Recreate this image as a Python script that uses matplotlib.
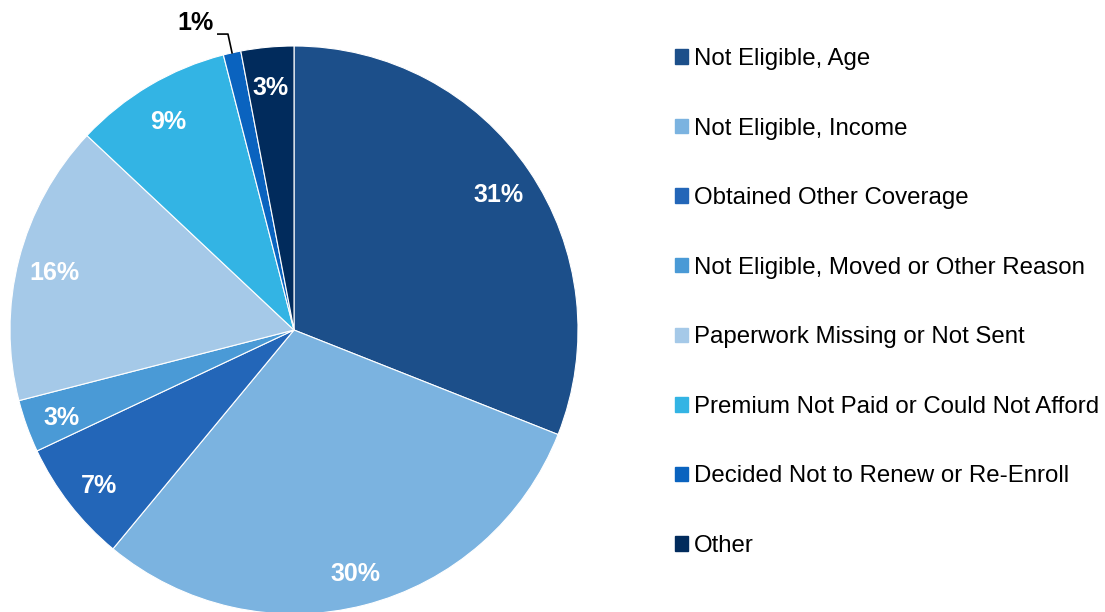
import matplotlib.pyplot as plt
import matplotlib.patches as mpatches
import numpy as np

plt.rcParams['font.family'] = ['Liberation Sans', 'DejaVu Sans']

# Données
categories = [
    "Not Eligible, Age",
    "Not Eligible, Income",
    "Obtained Other Coverage",
    "Not Eligible, Moved or Other Reason",
    "Paperwork Missing or Not Sent",
    "Premium Not Paid or Could Not Afford",
    "Decided Not to Renew or Re-Enroll",
    "Other",
]
valeurs = [31, 30, 7, 3, 16, 9, 1, 3]
couleurs = ["#1c4f8a", "#7bb3e0", "#2366b8", "#4a9ad6",
            "#a5c9e8", "#33b4e4", "#0a63bf", "#012b5c"]

fig = plt.figure(figsize=(11.05, 6.12), dpi=100)
W, H = 1105, 612
cx, cy, r = 294, 330, 284
ax = fig.add_axes([(cx - r) / W, (H - cy - r) / H, 2 * r / W, 2 * r / H])

wedges, _ = ax.pie(valeurs, colors=couleurs, startangle=90, counterclock=False,
                   radius=1, wedgeprops=dict(edgecolor='white', linewidth=0.8))
ax.set_xlim(-1, 1)
ax.set_ylim(-1, 1)
ax.set_aspect('equal')
ax.axis('off')

# Étiquettes de pourcentage
total = sum(valeurs)
for w, v in zip(wedges, valeurs):
    ang = np.deg2rad((w.theta1 + w.theta2) / 2)
    if v / total < 0.02:
        # petite part : étiquette à l'extérieur avec trait
        x0, y0 = np.cos(ang), np.sin(ang)
        ax.plot([x0 * 1.0, x0 * 1.02 - 0.01, x0 * 1.0 - 0.05],
                [y0 * 1.0, 1.042, 1.042], color='black', lw=1.2, clip_on=False)
        ax.text(-0.348, 1.08, f"{v}%", ha='center', va='center',
                fontsize=18, fontweight='bold', color='black')
    else:
        d = 0.87
        ax.text(d * np.cos(ang), d * np.sin(ang) - 0.015, f"{v}%",
                ha='center', va='center',
                fontsize=18, fontweight='bold', color='white')

# Légende
handles = [mpatches.Patch(color=c, label=l) for c, l in zip(couleurs, categories)]
fig.legend(handles=handles, loc='upper left', bbox_to_anchor=(675 / W, 1 - 48 / H),
           frameon=False, fontsize=17.3, handlelength=0.55, handleheight=0.55,
           handletextpad=0.25, labelspacing=1.98, borderaxespad=0, borderpad=0)

fig.savefig('out.png', dpi=100)
